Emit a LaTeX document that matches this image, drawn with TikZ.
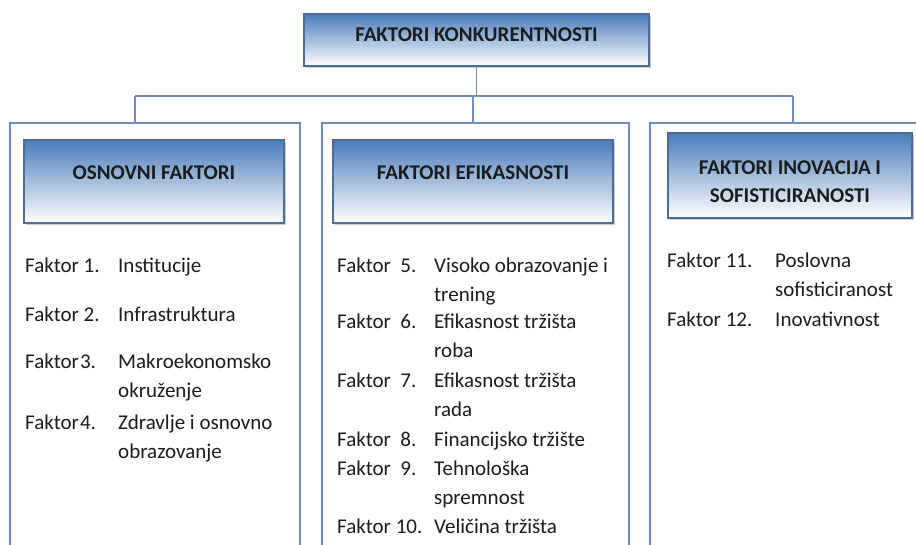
\documentclass[tikz,border=0pt]{standalone}
\usepackage{fontspec}
\setmainfont{Carlito}
\usetikzlibrary{shadows}
\definecolor{hdrblue}{RGB}{74,124,187}
\definecolor{lineblue}{RGB}{112,142,188}
\definecolor{hdredge}{RGB}{78,108,152}
\definecolor{txt}{RGB}{28,28,28}
\begin{document}
\begin{tikzpicture}[x=1pt,y=-1pt,
  hdr/.style={draw=hdredge, line width=1.2pt, top color=hdrblue, bottom color=white,
    drop shadow={shadow xshift=1.5pt, shadow yshift=-1.8pt, fill=black!45, opacity=0.45},
    inner sep=0pt, text=txt, font=\fontsize{21}{28}\selectfont\bfseries, align=center},
  panel/.style={draw=lineblue, line width=1.8pt, inner sep=0pt},
  conn/.style={draw=lineblue, line width=1.8pt},
  lbl/.style={anchor=base west, inner sep=0pt, text=txt, font=\fontsize{21}{28}\selectfont},
]
\clip (0,0) rectangle (916,545);
\fill[white] (0,0) rectangle (916,545);

% top box
\node[hdr, minimum width=345pt, text height=28pt, text depth=24pt] (top) at (476.5,40) {FAKTORI KONKURENTNOSTI};

% panels (run off the bottom of the picture)
\node[panel, minimum width=290pt, minimum height=480pt] (lp) at (155,363) {};
\node[panel, minimum width=307pt, minimum height=480pt] (mp) at (475.5,363) {};
\node[panel, minimum width=286pt, minimum height=480pt] (rp) at (793,363) {};

% connectors
\coordinate (jl) at (135,96);
\coordinate (jm) at (473,96);
\coordinate (jr) at (793,96);
\draw[conn] (top.south) -- (top.south |- jm);
\draw[conn] (jl) -- (jr);
\draw[conn] (jl) -- (jl |- lp.north);
\draw[conn] (jm) -- (jm |- mp.north);
\draw[conn] (jr) -- (jr |- rp.north);

% headers
\node[hdr, minimum width=260pt, text height=40pt, text depth=43pt] (h1) at (154,181.5) {OSNOVNI FAKTORI};
\node[hdr, minimum width=280pt, text height=40pt, text depth=43pt] (h2) at (473,181.5) {FAKTORI EFIKASNOSTI};
\node[hdr, minimum width=244pt, text height=70pt, text depth=15pt] (h3) at (790,175.5) {FAKTORI INOVACIJA I\\SOFISTICIRANOSTI};

% left column
\node[lbl] (f1) at (25,273) {Faktor 1.};
\node[lbl] (d1) at (118,273) {Institucije};
\node[lbl] (f2) at (25,322) {Faktor 2.};
\node[lbl] (d2) at (118,322) {Infrastruktura};
\node[lbl] (f3) at (25,369) {Faktor\kern1pt 3.};
\node[lbl] (d3a) at (118,369) {Makroekonomsko};
\node[lbl] (d3b) at (118,398) {okruženje};
\node[lbl] (f4) at (25,429) {Faktor\kern1pt 4.};
\node[lbl] (d4a) at (118,429) {Zdravlje i osnovno};
\node[lbl] (d4b) at (118,458) {obrazovanje};

% middle column
\node[lbl] (f5) at (337,273) {Faktor\ \ 5.};
\node[lbl] (d5a) at (434,273) {Visoko obrazovanje i};
\node[lbl] (d5b) at (434,302) {trening};
\node[lbl] (f6) at (337,329) {Faktor\ \ 6.};
\node[lbl] (d6a) at (434,329) {Efikasnost tržišta};
\node[lbl] (d6b) at (434,358) {roba};
\node[lbl] (f7) at (337,388) {Faktor\ \ 7.};
\node[lbl] (d7a) at (434,388) {Efikasnost tržišta};
\node[lbl] (d7b) at (434,417) {rada};
\node[lbl] (f8) at (337,446) {Faktor\ \ 8.};
\node[lbl] (d8) at (434,446) {Financijsko tržište};
\node[lbl] (f9) at (337,475) {Faktor\ \ 9.};
\node[lbl] (d9a) at (434,475) {Tehnološka};
\node[lbl] (d9b) at (434,504) {spremnost};
\node[lbl] (f10) at (337,533) {Faktor 10.};
\node[lbl] (d10) at (434,533) {Veličina tržišta};

% right column
\node[lbl] (f11) at (667,268) {Faktor 11.};
\node[lbl] (d11a) at (775,268) {Poslovna};
\node[lbl] (d11b) at (775,297) {sofisticiranost};
\node[lbl] (f12) at (667,327) {Faktor 12.};
\node[lbl] (d12) at (775,327) {Inovativnost};
\end{tikzpicture}
\end{document}
